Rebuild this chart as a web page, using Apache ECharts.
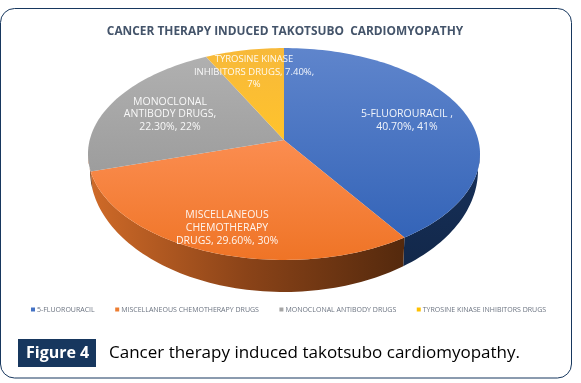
<!DOCTYPE html>
<html><head><meta charset="utf-8"><style>html,body{margin:0;padding:0;background:#fff}#c{width:581px;height:383px}</style>
<script src="https://cdn.jsdelivr.net/npm/echarts@6/dist/echarts.min.js"></script></head>
<body><div id="c"></div><script>
const categories=['5-FLUOROURACIL','MISCELLANEOUS CHEMOTHERAPY DRUGS','MONOCLONAL ANTIBODY DRUGS','TYROSINE KINASE INHIBITORS DRUGS'];
const values=[40.7,29.6,22.3,7.4];
const sliceLabels=[['5-FLUOROURACIL ,','40.70%, 41%'],['MISCELLANEOUS','CHEMOTHERAPY','DRUGS, 29.60%, 30%'],['MONOCLONAL','ANTIBODY DRUGS,','22.30%, 22%'],['TYROSINE KINASE','INHIBITORS DRUGS, 7.40%,','7%']];
const colors=['#4472c4','#ed7d31','#a5a5a5','#ffc000'];
const titleText='CANCER THERAPY INDUCED TAKOTSUBO  CARDIOMYOPATHY';
const figureTag='Figure 4';
const caption='Cancer therapy induced takotsubo cardiomyopathy.';

const cx=284,apexY=140,k=0.132,R=194.3,S=104.1;
const total=values.reduce((a,b)=>a+b,0);
const TAU=Math.PI*2;
function rim(t){const u=Math.sin(t),v=Math.cos(t),w=1+k*v;return [cx+R*u/w,apexY-S*v/w];}
function lower(t){const p=rim(t);const e=Math.asin(Math.max(-1,Math.min(1,(p[0]-cx)/196)));
  return [cx+194*Math.sin(e),170+122*Math.cos(e)];}
const labelPos=[[407,120.5],[227,228],[170,114.5],[254,72]];
const labelSize=[10.5,10.5,10.5,9.5];
function renderSlice(i){return function(params,api){
  const before=values.slice(0,i).reduce((a,b)=>a+b,0);
  const a0=before/total*TAU,a1=(before+api.value(0))/total*TAU;
  const n=Math.max(8,Math.round((a1-a0)*40));
  const top=[[cx,apexY]];const front=[],back=[];
  for(let j=0;j<=n;j++){const t=a0+(a1-a0)*j/n;const p=rim(t);top.push(p);
    if(p[1]>154){front.push(p);back.push(lower(t));}}
  const children=[];
  if(front.length>1){
    const side=(i===0)?{type:'linear',x:0,y:0,x2:0,y2:1,colorStops:[{offset:0,color:'#17305a'},{offset:1,color:'#12284a'}]}
      :{type:'linear',x:0,y:0,x2:1,y2:0,colorStops:[{offset:0,color:'#cf6a28'},{offset:.5,color:'#8a4318'},{offset:1,color:'#54290d'}]};
    children.push({type:'polygon',shape:{points:front.concat(back.reverse())},style:{fill:side}});
  }
  const grad={type:'linear',x:0,y:0,x2:0,y2:1,colorStops:[{offset:0,color:['#5f85cc','#fb8d50','#b0b0b0','#f7b93a'][i]},{offset:1,color:['#3464b8','#ef7426','#9d9d9d','#ffc32c'][i]}]};
  children.push({type:'polygon',shape:{points:top},style:{fill:grad}});
  return {type:'group',children};
};}
function labelSeries(){return {type:'custom',name:'labels',coordinateSystem:'none',silent:true,z:5,data:[0,1,2,3],
  renderItem(params){const i=params.dataIndex;return {type:'text',x:labelPos[i][0],y:labelPos[i][1],style:{text:sliceLabels[i].join('\n'),fill:'#fff',font:labelSize[i]+'px "Open Sans"',align:'center',verticalAlign:'middle',lineHeight:12.6,opacity:.92}};}};}
const series=categories.map((name,i)=>({type:'custom',name,coordinateSystem:'none',silent:true,itemStyle:{color:colors[i]},data:[[values[i]]],renderItem:renderSlice(i),encode:{value:0},z:2}));
series.push(labelSeries());
const chart=echarts.init(document.getElementById('c'),null,{renderer:'canvas'});
chart.setOption({animation:false,backgroundColor:'#fff',
  title:{text:titleText,left:280,top:21,textAlign:'center',textStyle:{fontFamily:'Open Sans',fontWeight:'bold',fontSize:11.9,color:'#44546a'}},
  legend:{data:categories,left:26,top:301,itemWidth:4,itemHeight:4,itemGap:20.5,icon:'rect',selectedMode:false,textStyle:{fontFamily:'Open Sans',fontSize:7,color:'#6b7380',padding:[0,0,0,-3]}},
  graphic:[
    {type:'rect',z:0,shape:{x:0.5,y:8.5,width:571,height:369.5,r:14},style:{fill:'#fff',stroke:'#17375e',lineWidth:1}},
    {type:'rect',z:1,shape:{x:18,y:339,width:78,height:28},style:{fill:'#17375e'}},
    {type:'text',z:2,x:26,y:353,style:{text:figureTag,fill:'#fff',font:'bold 16px "Open Sans"',verticalAlign:'middle'}},
    {type:'text',z:2,x:109,y:353,style:{text:caption,fill:'#000',font:'17px "Open Sans"',verticalAlign:'middle'}}
  ],
  series});
</script></body></html>
